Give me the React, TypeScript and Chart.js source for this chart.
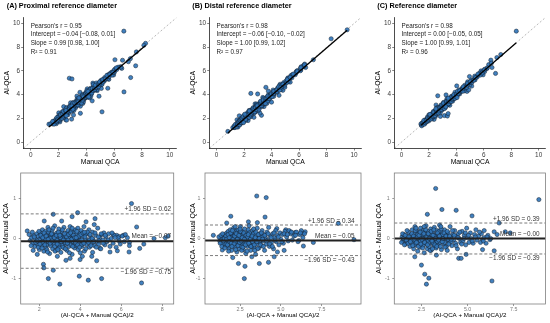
import React, { useEffect, useRef } from "react";
import { Chart, registerables } from "chart.js";
Chart.register(...registerables);

// ---------------- DATA ----------------
const panelTitles = ["(A) Proximal reference diameter", "(B) Distal reference diameter", "(C) Reference diameter"];
const pearsonR = ["0.95", "0.98", "0.98"];
const interceptText = ["\u22120.04 [\u22120.08, 0.01]", "\u22120.06 [\u22120.10, \u22120.02]", "0.00 [\u22120.05, 0.05]"];
const slopeText = ["0.99 [0.98, 1.00]", "1.00 [0.99, 1.02]", "1.00 [0.99, 1.01]"];
const r2Text = ["0.91", "0.97", "0.96"];
const regIntercept = [-0.04, -0.06, 0.0];
const regSlope = [0.99, 1.0, 1.0];
const baMean = [-0.07, -0.05, -0.0];
const baUpper = [0.62, 0.34, 0.39];
const baLower = [-0.75, -0.43, -0.39];
const meanLabel = ["\u22120.07", "\u22120.05", "\u22120.00"];
const upperLabel = ["0.62", "0.34", "0.39"];
const lowerLabel = ["\u22120.75", "\u22120.43", "\u22120.39"];
const scatterTicks = [0, 2, 4, 6, 8, 10];
const scatterLimits = [-0.5, 10.5];
const baXTicks = [[2, 4, 6, 8], [2.5, 5, 7.5], [2.5, 5, 7.5]];
const baXDecimals = [0, 1, 1];
const baXLimits = [[1.09, 8.56], [0.35, 9.91], [1.03, 9.22]];
const baYTicks = [-1, 0, 1];
const baYLimits = [-1.65, 1.65];

// Bland-Altman pairs: [mean of methods, AI-QCA - Manual QCA]
const baPointsA: [number, number][] = [
  [1.41,0.19],[2.24,0.44],[2.68,0.61],[3.09,0.44],[3.87,0.65],[4.28,0.42],[4.72,0.5],[6.5,0.88],[6.75,0.29],[7.1,-0.14],[8.29,0.06],[8.15,0.02],[5.78,0.08],[5.45,-0.34],[5.81,-0.31],[6.38,-0.34],[4.96,-0.25],[4.56,-0.45],[3.99,-0.53],[4.8,-0.56],[2.88,-0.45],[2.2,-0.65],[2.22,-0.74],[2.68,-0.8],[2.44,-1.01],[3.0,-1.15],[3.95,-0.95],[4.39,-1.05],[5.04,-1.01],[6.99,-1.12],[6.4,-0.1],[6.1,0.08],[5.6,0.1],[5.9,0.05],[3.6,0.55],[1.7,-0.3],[1.9,-0.4],[3.5,-0.5],[3.3,-0.55],[4.1,-0.45],[4.6,-0.35],[7.6,0.0],[6.9,-0.25],
  [1.55,-0.05],[1.62,0.02],[1.68,-0.12],[1.72,0.08],[1.78,-0.2],[1.8,0.0],[1.85,-0.08],[1.88,0.12],[1.92,-0.15],[1.95,0.05],
  [2.0,-0.28],[2.02,-0.02],[2.05,0.15],[2.08,-0.1],[2.1,0.04],[2.12,-0.18],[2.15,0.22],[2.18,-0.06],[2.2,0.1],[2.22,-0.32],
  [2.25,-0.12],[2.28,0.02],[2.3,0.18],[2.32,-0.22],[2.35,-0.04],[2.38,0.08],[2.4,-0.15],[2.42,0.28],[2.45,-0.08],[2.48,0.0],
  [2.5,-0.38],[2.52,0.12],[2.55,-0.18],[2.58,0.05],[2.6,-0.1],[2.62,0.2],[2.65,-0.26],[2.68,-0.02],[2.7,0.1],[2.72,-0.14],
  [2.75,0.32],[2.78,-0.06],[2.8,0.02],[2.82,-0.3],[2.85,0.14],[2.88,-0.1],[2.9,0.06],[2.92,-0.2],[2.95,0.24],[2.98,-0.04],
  [3.0,-0.12],[3.02,0.1],[3.05,-0.35],[3.08,0.0],[3.1,0.18],[3.12,-0.16],[3.15,0.04],[3.18,-0.08],[3.2,0.28],[3.22,-0.24],
  [3.25,0.08],[3.28,-0.02],[3.3,-0.14],[3.32,0.14],[3.35,-0.3],[3.38,0.02],[3.4,0.2],[3.42,-0.1],[3.45,-0.2],[3.48,0.06],
  [3.5,0.3],[3.52,-0.06],[3.55,-0.16],[3.58,0.1],[3.6,-0.4],[3.62,0.0],[3.65,0.16],[3.68,-0.12],[3.7,0.04],[3.72,-0.24],
  [3.75,0.22],[3.78,-0.04],[3.8,-0.18],[3.82,0.1],[3.85,-0.08],[3.88,0.26],[3.9,-0.28],[3.92,0.02],[3.95,-0.12],[3.98,0.14],
  [4.0,-0.05],[4.05,0.2],[4.08,-0.2],[4.1,0.06],[4.15,-0.1],[4.18,0.3],[4.2,-0.32],[4.25,0.0],[4.3,-0.15],[4.32,0.12],
  [4.38,-0.06],[4.42,0.22],[4.45,-0.22],[4.5,0.05],[4.55,-0.12],[4.6,0.16],[4.62,-0.02],[4.68,0.35],[4.7,-0.18],[4.75,0.08],
  [4.8,-0.08],[4.85,0.26],[4.9,-0.14],[4.95,0.02],[5.0,-0.26],[5.05,0.1],[5.1,-0.04],[5.15,0.14],[5.2,-0.16],[5.25,0.04],
  [5.3,-0.08],[5.38,0.12],[5.45,-0.2],[5.5,0.0],[5.6,-0.12],[5.65,0.08],[5.75,-0.22],[5.85,0.02],[5.95,-0.14],[6.05,0.06],[6.15,-0.08],[6.3,0.02],[6.4,-0.18],
  [2.3,-0.02],[2.55,0.02],[2.85,-0.04],[3.05,0.06],[3.25,-0.1],[3.45,0.0],[3.65,-0.08],[3.85,0.04],[3.15,-0.22],[3.55,0.18],[2.95,-0.16],[2.65,0.08],[3.75,-0.14],[4.05,-0.16],[4.25,0.1],[4.45,-0.04],[2.15,-0.1],[1.95,-0.22],[2.45,0.16],[2.75,-0.2],
  [1.5,0.1],[1.6,-0.18],[1.75,0.04],[1.82,-0.1],[1.98,0.18],[2.03,-0.14],[2.07,0.08],[2.13,-0.24],[2.17,0.02],[2.23,0.14],[2.27,-0.16],[2.33,0.06],[2.37,-0.28],[2.43,-0.02],[2.47,0.22],[2.53,-0.12],[2.57,0.1],[2.63,-0.06],[2.67,0.26],[2.73,0.02],
  [2.77,-0.32],[2.83,0.08],[2.87,-0.14],[2.93,0.16],[2.97,-0.24],[3.03,0.02],[3.07,-0.08],[3.13,0.22],[3.17,-0.04],[3.23,0.12],[3.27,-0.26],[3.33,0.04],[3.37,-0.12],[3.43,0.1],[3.47,-0.36],[3.53,0.14],[3.57,-0.02],[3.63,-0.2],[3.67,0.08],[3.73,0.02],
  [3.77,-0.1],[3.83,0.18],[3.87,-0.16],[3.93,0.06],[3.97,-0.22],[4.03,0.1],[4.07,-0.04],[4.13,0.14],[4.17,-0.12],[4.23,0.04],[4.27,-0.26],[4.35,0.16],[4.4,-0.1],[4.48,0.1],[4.52,-0.18],[4.58,0.0],[4.65,-0.08],[4.72,0.14],[4.78,-0.22],[4.88,0.04],
  [4.92,-0.06],[5.02,0.12],[5.12,-0.12],[5.22,0.08],[5.35,-0.04],[5.55,0.14],[5.7,0.02],[5.9,-0.06],[6.2,0.1],[1.66,0.16],[1.9,-0.06],[2.6,0.12],[3.0,0.08],[3.4,-0.04],[3.8,0.02],[4.2,0.16],[2.4,-0.34],[2.9,-0.28],[3.6,0.26],[4.0,-0.36],
];
const baPointsB: [number, number][] = [
  [3.52,1.07],[4.1,1.03],[4.03,0.54],[1.93,0.56],[1.68,0.39],[3.01,0.42],[3.56,0.4],[4.75,0.25],[5.57,0.17],[5.87,0.15],[6.38,0.13],[6.49,0.17],[6.99,-0.1],[8.52,0.38],[9.48,-0.03],[0.86,0.08],[1.41,-0.29],[2.76,-1.01],[2.4,-0.63],[2.8,-0.7],[3.68,-0.63],[4.24,-0.6],[4.59,-0.46],[6.38,-0.19],[4.79,-0.34],[2.05,-0.48],[3.22,-0.46],[5.3,0.22],[5.2,-0.3],[6.1,-0.05],
  [1.25,-0.06],[1.3,0.02],[1.35,-0.1],[1.4,-0.02],[1.45,0.05],[1.5,-0.12],[1.52,-0.04],[1.55,0.1],[1.58,-0.18],[1.6,0.0],
  [1.65,-0.08],[1.68,0.14],[1.7,-0.2],[1.72,0.04],[1.75,-0.1],[1.78,0.18],[1.8,-0.02],[1.82,-0.26],[1.85,0.08],[1.88,-0.14],
  [1.9,0.22],[1.92,-0.06],[1.95,0.02],[1.98,-0.3],[2.0,0.12],[2.02,-0.1],[2.05,0.05],[2.08,-0.18],[2.1,0.26],[2.12,-0.04],
  [2.15,0.08],[2.18,-0.22],[2.2,0.0],[2.22,0.16],[2.25,-0.12],[2.28,0.04],[2.3,-0.34],[2.32,0.2],[2.35,-0.06],[2.38,0.1],
  [2.4,-0.16],[2.42,0.02],[2.45,-0.26],[2.48,0.14],[2.5,-0.08],[2.52,0.3],[2.55,-0.02],[2.58,-0.2],[2.6,0.08],[2.62,-0.12],
  [2.65,0.18],[2.68,-0.04],[2.7,-0.28],[2.72,0.04],[2.75,-0.14],[2.78,0.24],[2.8,-0.08],[2.82,0.0],[2.85,-0.38],[2.88,0.12],
  [2.9,-0.1],[2.92,0.06],[2.95,-0.2],[2.98,0.16],[3.0,-0.04],[3.05,0.32],[3.08,-0.16],[3.1,0.02],[3.15,-0.3],[3.18,0.1],
  [3.2,-0.08],[3.25,0.2],[3.28,-0.12],[3.3,0.04],[3.35,-0.22],[3.38,0.14],[3.4,-0.02],[3.45,-0.4],[3.48,0.08],[3.5,-0.14],
  [3.55,0.26],[3.58,-0.06],[3.6,0.0],[3.65,-0.24],[3.7,0.12],[3.72,-0.1],[3.78,0.04],[3.82,-0.18],[3.85,0.2],[3.9,-0.06],
  [3.95,0.1],[4.0,-0.3],[4.05,0.02],[4.1,-0.14],[4.15,0.16],[4.2,-0.04],[4.25,0.28],[4.3,-0.2],[4.35,0.06],[4.42,-0.1],
  [4.5,0.12],[4.55,-0.26],[4.6,0.02],[4.68,0.2],[4.72,-0.08],[4.8,0.08],[4.88,-0.16],[4.95,0.14],[5.0,-0.02],[5.1,0.1],
  [5.15,-0.12],[5.25,0.18],[5.35,0.04],[5.45,-0.06],[5.5,0.2],[5.6,0.12],[5.7,-0.04],[5.8,0.06],[5.95,0.16],[6.05,-0.08],[6.15,0.1],[6.25,0.2],[6.35,0.02],[6.45,0.12],
  [1.6,-0.14],[1.9,0.02],[2.1,-0.06],[2.3,0.06],[2.5,0.04],[2.7,0.1],[2.9,-0.02],[3.1,-0.1],[3.3,0.12],[3.5,0.0],[3.7,-0.06],[3.9,0.04],[2.2,-0.08],[2.4,0.22],[2.6,-0.3],[2.8,0.06],[3.0,0.22],[3.2,-0.2],[1.4,-0.14],[1.75,0.06],
  [1.2,0.04],[1.28,-0.12],[1.33,0.08],[1.38,-0.2],[1.43,0.12],[1.48,-0.06],[1.53,0.0],[1.57,-0.24],[1.63,0.06],[1.67,-0.02],[1.73,-0.16],[1.77,0.1],[1.83,0.02],[1.87,-0.08],[1.93,0.14],[1.97,-0.12],[2.03,0.2],[2.07,-0.02],[2.13,-0.14],[2.17,0.06],
  [2.23,-0.28],[2.27,0.12],[2.33,-0.02],[2.37,-0.18],[2.43,0.08],[2.47,-0.1],[2.53,0.18],[2.57,-0.06],[2.63,0.02],[2.67,-0.22],[2.73,0.14],[2.77,-0.02],[2.83,-0.16],[2.87,0.08],[2.93,-0.32],[2.97,0.04],[3.03,-0.12],[3.07,0.14],[3.13,-0.02],[3.17,-0.2],
  [3.23,0.06],[3.27,-0.08],[3.33,0.24],[3.37,-0.16],[3.43,0.02],[3.47,0.16],[3.53,-0.08],[3.57,-0.26],[3.63,0.1],[3.67,0.0],[3.75,-0.16],[3.8,0.14],[3.88,-0.02],[3.93,-0.2],[4.02,0.08],[4.12,-0.06],[4.22,0.12],[4.32,-0.14],[4.4,0.02],[4.48,-0.2],
  [4.58,0.14],[4.65,-0.04],[4.85,0.04],[5.05,-0.08],[5.2,0.12],[5.4,0.1],[5.65,0.16],[5.9,0.08],[6.2,0.14],[2.0,-0.2],[2.5,0.24],[3.0,0.1],[3.4,-0.3],[2.2,0.3],[1.8,-0.32],
];
const baPointsC: [number, number][] = [
  [3.27,1.26],[3.61,0.73],[4.38,0.71],[2.82,0.61],[5.24,0.57],[8.86,0.98],[6.71,0.39],[7.04,0.17],[7.31,0.14],[6.44,0.17],[5.81,-0.03],[6.21,-0.03],[5.81,-0.28],[6.44,-0.31],[4.52,-0.5],[4.65,-0.5],[3.31,-0.42],[2.5,-0.67],[2.68,-0.9],[2.77,-1.15],[2.9,-1.0],[6.32,-1.07],[2.14,-0.46],[4.92,-0.4],[5.9,0.2],[6.6,0.1],
  [1.45,0.04],[1.5,-0.06],[1.55,0.1],[1.6,-0.02],[1.65,-0.14],[1.7,0.06],[1.75,-0.08],[1.8,0.16],[1.85,0.0],[1.88,-0.2],
  [1.92,0.08],[1.95,-0.04],[2.0,0.22],[2.02,-0.12],[2.05,0.02],[2.08,-0.26],[2.1,0.12],[2.12,-0.06],[2.15,0.3],[2.18,0.0],
  [2.2,-0.16],[2.22,0.06],[2.25,-0.08],[2.28,0.18],[2.3,-0.32],[2.32,0.04],[2.35,-0.1],[2.38,0.14],[2.4,-0.02],[2.42,-0.22],
  [2.45,0.26],[2.48,0.02],[2.5,-0.12],[2.52,0.1],[2.55,-0.04],[2.58,0.2],[2.6,-0.18],[2.62,0.06],[2.65,-0.36],[2.68,0.0],
  [2.7,0.14],[2.72,-0.08],[2.75,0.32],[2.78,-0.14],[2.8,0.04],[2.82,-0.26],[2.85,0.18],[2.88,-0.02],[2.9,0.08],[2.92,-0.2],
  [2.95,0.12],[2.98,-0.06],[3.0,0.24],[3.02,-0.3],[3.05,0.02],[3.08,-0.12],[3.1,0.16],[3.12,-0.04],[3.15,0.06],[3.18,-0.18],
  [3.2,0.28],[3.22,0.0],[3.25,-0.1],[3.28,0.1],[3.3,-0.24],[3.32,0.04],[3.35,0.2],[3.38,-0.06],[3.4,0.12],[3.42,-0.16],
  [3.45,0.02],[3.48,0.34],[3.5,-0.1],[3.55,0.08],[3.58,-0.28],[3.6,0.16],[3.65,-0.02],[3.68,0.06],[3.72,-0.14],[3.75,0.22],
  [3.8,0.0],[3.85,-0.2],[3.88,0.1],[3.92,-0.06],[3.95,0.14],[4.0,-0.1],[4.05,0.3],[4.1,0.02],[4.15,-0.18],[4.2,0.1],
  [4.25,-0.04],[4.3,0.2],[4.35,-0.12],[4.4,0.06],[4.45,-0.26],[4.5,0.12],[4.55,0.0],[4.62,-0.1],[4.7,0.18],[4.75,-0.06],
  [4.82,0.08],[4.9,-0.16],[4.95,0.26],[5.0,0.02],[5.08,-0.1],[5.15,0.14],[5.2,0.0],[5.3,-0.12],[5.38,0.1],[5.45,0.22],[5.5,-0.04],[5.6,0.06],[5.7,-0.1],[5.75,0.12],[5.9,0.02],[6.0,-0.12],[6.1,0.08],[6.25,0.0],
  [2.0,-0.02],[2.3,0.1],[2.6,0.0],[2.9,-0.1],[3.2,0.06],[3.5,0.0],[3.8,0.08],[2.15,-0.14],[2.45,-0.06],[2.75,0.06],[3.05,0.1],[3.35,-0.08],[3.65,0.1],[3.95,-0.02],[2.55,0.16],[2.85,-0.04],[3.15,-0.12],[3.45,0.18],[3.75,-0.1],[4.1,-0.08],
  [1.42,-0.1],[1.48,0.12],[1.52,0.0],[1.58,-0.16],[1.62,0.08],[1.68,-0.04],[1.72,0.2],[1.78,-0.12],[1.82,0.04],[1.9,-0.08],[1.98,0.12],[2.03,-0.18],[2.07,0.06],[2.13,-0.02],[2.17,0.2],[2.23,-0.1],[2.27,0.02],[2.33,-0.2],[2.37,0.08],[2.43,0.16],
  [2.47,-0.14],[2.53,-0.02],[2.57,-0.24],[2.63,0.12],[2.67,-0.1],[2.73,0.22],[2.77,0.02],[2.83,-0.16],[2.87,0.12],[2.93,0.0],[2.97,-0.3],[3.03,0.18],[3.07,-0.06],[3.13,0.08],[3.17,0.22],[3.23,-0.16],[3.27,0.0],[3.33,-0.2],[3.37,0.14],[3.43,-0.04],
  [3.47,0.06],[3.53,-0.2],[3.57,0.24],[3.63,-0.08],[3.67,0.0],[3.73,0.14],[3.78,-0.22],[3.83,0.06],[3.9,0.18],[3.98,-0.14],[4.03,0.06],[4.12,-0.02],[4.18,0.2],[4.28,0.08],[4.38,-0.18],[4.48,0.02],[4.58,0.16],[4.68,-0.14],[4.8,0.0],[4.88,0.14],
  [5.05,0.08],[5.25,-0.06],[5.42,0.04],[5.65,0.16],[5.85,-0.06],[6.05,0.04],[2.2,0.26],[2.65,0.3],[3.1,-0.26],[3.55,0.3],[3.9,-0.3],
];
// Scatter-only pairs [Manual QCA, AI-QCA] whose difference lies outside the Bland-Altman y range
const extraPointsA: [number, number][] = [[2.78,5.38],[2.97,5.32],[6.7,9.35],[7.19,5.44],[6.71,4.23],[5.13,2.55]];
const extraPointsB: [number, number][] = [[2.49,4.1]];
const extraPointsC: [number, number][] = [];

const BA_POINTS = [baPointsA, baPointsB, baPointsC];
const EXTRA_POINTS = [extraPointsA, extraPointsB, extraPointsC];

// ---------------- LAYOUT / STYLE ----------------
const FONT = "'Liberation Sans', Arial, Helvetica, sans-serif";
const W = 550, H = 323;
const TOP_GEO = [
  { left: 23.7, right: 176.7, titleX: 6.7, yTitleX: 7.3 },
  { left: 209.7, right: 361, titleX: 192.3, yTitleX: 193.3 },
  { left: 394.7, right: 546, titleX: 377.3, yTitleX: 378.3 },
];
const TOP_Y = { top: 17.5, bottom: 148, xTitleY: 161.7, titleY: 6.3 };
const BOT_GEO = [
  { left: 20.7, right: 173.7, yTitleX: 6, labelInset: 2.7 },
  { left: 205, right: 361, yTitleX: 193.3, labelInset: 6.5 },
  { left: 394.3, right: 546.7, yTitleX: 379, labelInset: 6 },
];
const BOT_Y = { top: 173, bottom: 304, xTitleY: 315.3 };
const annotY = [9.8, 9.05, 8.3, 7.55];
const POINT_FILL = "rgba(50,118,186,0.92)";
const POINT_EDGE = "#14202e";

function buildScatter(i: number): any {
  const g = TOP_GEO[i];
  const pts = BA_POINTS[i].map(([m, d]) => ({ x: m - d / 2, y: m + d / 2 }))
    .concat(EXTRA_POINTS[i].map(([x, y]) => ({ x, y })));
  const xs = BA_POINTS[i].map(([m, d]) => m - d / 2);
  const x0 = Math.min(...xs), x1 = Math.max(...xs);
  const fit = [x0, x1].map((x) => ({ x, y: regIntercept[i] + regSlope[i] * x }));
  const lim = scatterLimits;
  const tickFont = { family: FONT, size: 6.4, lineHeight: 1.2 };
  const titleSize = 6.8;
  const titleFont = { family: FONT, size: titleSize, lineHeight: 1.2 };
  const yW = g.left - (g.yTitleX - (titleSize * 1.2) / 2);
  const xH = TOP_Y.xTitleY + (titleSize * 1.2) / 2 - TOP_Y.bottom;
  const grid = { drawOnChartArea: false, drawTicks: true, tickLength: 2.5, tickColor: "#333", tickWidth: 0.6, color: "#333", lineWidth: 0.6 };
  const border = { display: true, color: "#000", width: 0.7 };
  const textPlugin = {
    id: "scatterText" + i,
    afterDraw(chart: any) {
      const ctx = chart.ctx;
      const { x, y } = chart.scales;
      ctx.save();
      ctx.textBaseline = "middle";
      ctx.textAlign = "left";
      ctx.fillStyle = "#000";
      ctx.font = `bold 7.3px ${FONT}`;
      ctx.fillText(panelTitles[i], g.titleX, TOP_Y.titleY);
      ctx.font = `6.3px ${FONT}`;
      ctx.fillStyle = "#222";
      const lines = [
        `Pearson's r = ${pearsonR[i]}`,
        `Intercept = ${interceptText[i]}`,
        `Slope = ${slopeText[i]}`,
        `R\u00b2 = ${r2Text[i]}`,
      ];
      lines.forEach((t, k) => ctx.fillText(t, x.getPixelForValue(0), y.getPixelForValue(annotY[k])));
      ctx.restore();
    },
  };
  return {
    type: "scatter",
    data: {
      datasets: [
        { data: fit, showLine: true, borderColor: "#000", borderWidth: 1.3, pointRadius: 0, order: 0 },
        { data: pts, pointRadius: 2.1, backgroundColor: POINT_FILL, borderColor: POINT_EDGE, borderWidth: 0.5, order: 1 },
        { data: [{ x: lim[0], y: lim[0] }, { x: lim[1], y: lim[1] }], showLine: true, borderColor: "#9a9a9a", borderWidth: 0.7, borderDash: [2, 2], pointRadius: 0, order: 2 },
      ],
    },
    options: {
      responsive: false, animation: false, devicePixelRatio: 1, events: [],
      layout: { padding: { left: g.left - yW, right: W - g.right, top: TOP_Y.top, bottom: H - TOP_Y.bottom - xH } },
      plugins: { legend: { display: false }, tooltip: { enabled: false } },
      scales: {
        x: {
          type: "linear", min: lim[0], max: lim[1],
          afterFit: (s: any) => { s.height = xH; },
          afterBuildTicks: (s: any) => { s.ticks = scatterTicks.map((v) => ({ value: v })); },
          ticks: { font: tickFont, color: "#3a3a3a", padding: 0.6, maxRotation: 0, autoSkip: false, callback: (v: any) => String(v) },
          grid, border,
          title: { display: true, text: "Manual QCA", color: "#000", font: titleFont, padding: 0 },
        },
        y: {
          type: "linear", min: lim[0], max: lim[1],
          afterFit: (s: any) => { s.width = yW; },
          afterBuildTicks: (s: any) => { s.ticks = scatterTicks.map((v) => ({ value: v })); },
          ticks: { font: tickFont, color: "#3a3a3a", padding: 1.2, autoSkip: false, callback: (v: any) => String(v) },
          grid, border,
          title: { display: true, text: "AI-QCA", color: "#000", font: titleFont, padding: 0 },
        },
      },
    },
    plugins: [textPlugin],
  };
}

function buildBA(i: number): any {
  const g = BOT_GEO[i];
  const pts = BA_POINTS[i].map(([m, d]) => ({ x: m, y: d }));
  const xl = baXLimits[i];
  const hline = (v: number) => [{ x: xl[0], y: v }, { x: xl[1], y: v }];
  const tickFont = { family: FONT, size: 5.3, lineHeight: 1.2 };
  const xTitleSize = 6.2;
  const yTitleSize = 7.0;
  const xTitleFont = { family: FONT, size: xTitleSize, lineHeight: 1.2 };
  const yTitleFont = { family: FONT, size: yTitleSize, lineHeight: 1.2 };
  const yW = g.left - (g.yTitleX - (yTitleSize * 1.2) / 2);
  const xH = BOT_Y.xTitleY + (xTitleSize * 1.2) / 2 - BOT_Y.bottom;
  const grid = { drawOnChartArea: false, drawTicks: true, tickLength: 2, tickColor: "#555", tickWidth: 0.6, color: "#555", lineWidth: 0.6 };
  const border = { display: false };
  const textPlugin = {
    id: "baText" + i,
    afterDraw(chart: any) {
      const ctx = chart.ctx;
      const a = chart.chartArea;
      const y = chart.scales.y;
      ctx.save();
      ctx.strokeStyle = "#7f7f7f";
      ctx.lineWidth = 0.8;
      ctx.strokeRect(a.left, a.top, a.right - a.left, a.bottom - a.top);
      ctx.font = `6.4px ${FONT}`;
      ctx.textAlign = "right";
      ctx.textBaseline = "middle";
      ctx.fillStyle = "#333";
      const xr = a.right - g.labelInset;
      ctx.fillText(`+1.96 SD = ${upperLabel[i]}`, xr, y.getPixelForValue(baUpper[i]) - 4.2);
      ctx.fillText(`Mean = ${meanLabel[i]}`, xr, y.getPixelForValue(baMean[i]) - 4.6);
      ctx.fillText(`\u22121.96 SD = ${lowerLabel[i]}`, xr, y.getPixelForValue(baLower[i]) + 4.3);
      ctx.restore();
    },
  };
  return {
    type: "scatter",
    data: {
      datasets: [
        { data: hline(baMean[i]), showLine: true, borderColor: "#222", borderWidth: 1.9, pointRadius: 0, order: 0 },
        { data: hline(baUpper[i]), showLine: true, borderColor: "#444", borderWidth: 0.7, borderDash: [3, 2], pointRadius: 0, order: 0 },
        { data: hline(baLower[i]), showLine: true, borderColor: "#444", borderWidth: 0.7, borderDash: [3, 2], pointRadius: 0, order: 0 },
        { data: pts, pointRadius: 2.1, backgroundColor: POINT_FILL, borderColor: POINT_EDGE, borderWidth: 0.5, order: 1 },
      ],
    },
    options: {
      responsive: false, animation: false, devicePixelRatio: 1, events: [],
      layout: { padding: { left: g.left - yW, right: W - g.right, top: BOT_Y.top, bottom: H - BOT_Y.bottom - xH } },
      plugins: { legend: { display: false }, tooltip: { enabled: false } },
      scales: {
        x: {
          type: "linear", min: xl[0], max: xl[1],
          afterFit: (s: any) => { s.height = xH; },
          afterBuildTicks: (s: any) => { s.ticks = baXTicks[i].map((v) => ({ value: v })); },
          ticks: { font: tickFont, color: "#7a7a7a", padding: 0.5, maxRotation: 0, autoSkip: false, callback: (v: any) => Number(v).toFixed(baXDecimals[i]) },
          grid, border,
          title: { display: true, text: "(AI-QCA + Manual QCA)/2", color: "#000", font: xTitleFont, padding: 0 },
        },
        y: {
          type: "linear", min: baYLimits[0], max: baYLimits[1],
          afterFit: (s: any) => { s.width = yW; },
          afterBuildTicks: (s: any) => { s.ticks = baYTicks.map((v) => ({ value: v })); },
          ticks: { font: tickFont, color: "#7a7a7a", padding: 2.5, autoSkip: false, callback: (v: any) => String(v) },
          grid, border,
          title: { display: true, text: "AI-QCA - Manual QCA", color: "#000", font: yTitleFont, padding: 0 },
        },
      },
    },
    plugins: [textPlugin],
  };
}

export default function App() {
  const refs = useRef<(HTMLCanvasElement | null)[]>([]);
  useEffect(() => {
    document.body.style.margin = "0";
    const charts: Chart[] = [];
    for (let i = 0; i < 3; i++) {
      charts.push(new Chart(refs.current[i] as HTMLCanvasElement, buildScatter(i)));
      charts.push(new Chart(refs.current[i + 3] as HTMLCanvasElement, buildBA(i)));
    }
    return () => charts.forEach((c) => c.destroy());
  }, []);
  return (
    <div style={{ position: "fixed", left: 0, top: 0, width: W, height: H, background: "#fff" }}>
      {Array.from({ length: 6 }).map((_, k) => (
        <canvas
          key={k}
          ref={(el) => { refs.current[k] = el; }}
          width={W}
          height={H}
          style={{ position: "absolute", left: 0, top: 0, width: W, height: H }}
        />
      ))}
    </div>
  );
}
